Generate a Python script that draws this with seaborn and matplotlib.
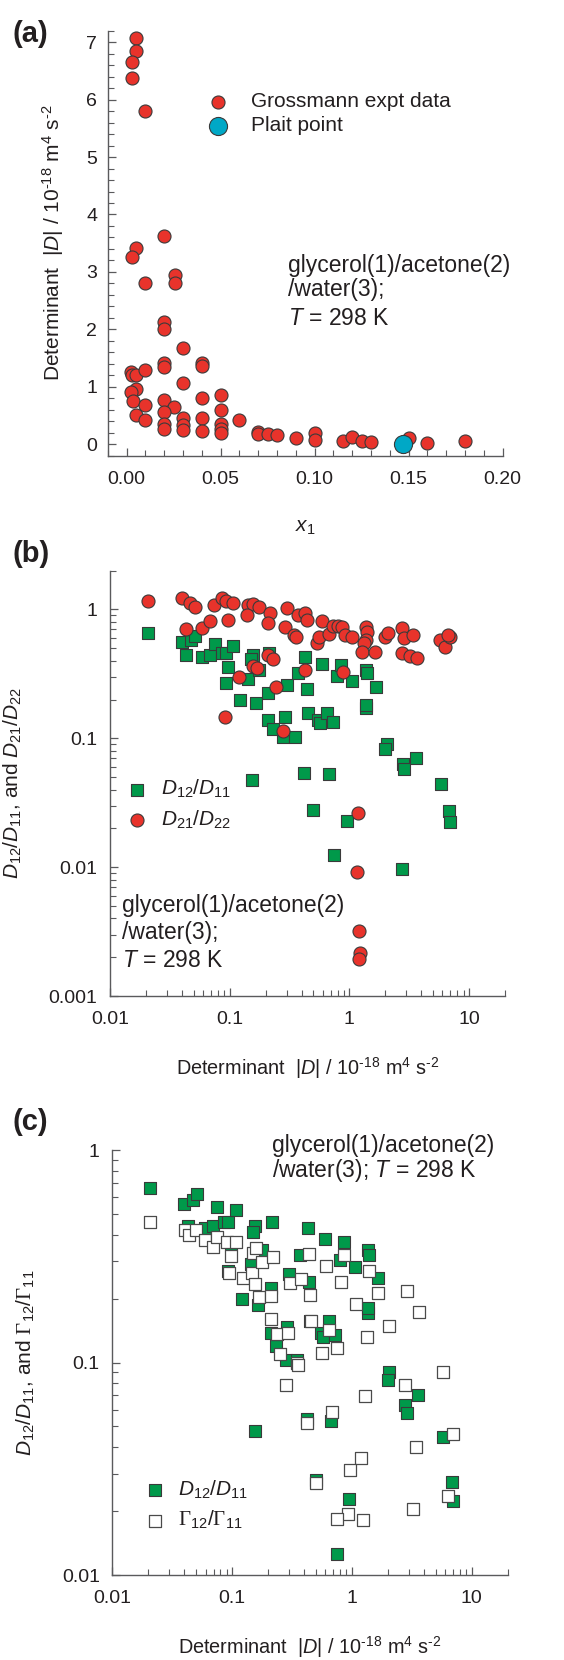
import numpy as np
import pandas as pd
import matplotlib
matplotlib.use("Agg")
import matplotlib.pyplot as plt
import matplotlib.ticker as mticker
import seaborn as sns

# ---------------- data ----------------
# (a) determinant |D| (10^-18 m^4 s^-2) versus glycerol mole fraction x1
a_x1 = [0.0048, 0.005, 0.003, 0.003, 0.010, 0.020, 0.005, 0.003, 0.0097, 0.026,
        0.026, 0.020, 0.020, 0.030, 0.020, 0.020, 0.040, 0.040, 0.0025, 0.0030,
        0.005, 0.010, 0.030, 0.005, 0.0025, 0.0034, 0.010, 0.040, 0.050, 0.020,
        0.0255, 0.020, 0.050, 0.005, 0.010, 0.030, 0.040, 0.060, 0.020, 0.020,
        0.030, 0.030, 0.040, 0.050, 0.050, 0.050, 0.070, 0.070, 0.075, 0.080,
        0.090, 0.100, 0.100, 0.115, 0.120, 0.125, 0.130, 0.150, 0.160, 0.180]
a_det = [7.08, 6.85, 6.65, 6.37, 5.81, 3.63, 3.42, 3.26, 2.80, 2.95,
         2.80, 2.13, 2.00, 1.67, 1.41, 1.35, 1.41, 1.36, 1.26, 1.20,
         1.20, 1.30, 1.07, 0.97, 0.91, 0.75, 0.68, 0.81, 0.85, 0.77,
         0.65, 0.56, 0.60, 0.50, 0.42, 0.45, 0.45, 0.43, 0.36, 0.27,
         0.33, 0.24, 0.23, 0.36, 0.27, 0.20, 0.21, 0.17, 0.17, 0.16,
         0.11, 0.19, 0.08, 0.05, 0.13, 0.05, 0.04, 0.10, 0.02, 0.05]
plait_x1 = [0.147]
plait_det = [0.0]

# (b), (c) D12/D11 versus |D|
d12_det = [0.0206, 0.040, 0.0475, 0.051, 0.043, 0.059, 0.069, 0.075, 0.086, 0.093,
           0.107, 0.0975, 0.093, 0.122, 0.143, 0.156, 0.150, 0.177, 0.166, 0.214,
           0.21, 0.21, 0.232, 0.29, 0.28, 0.35, 0.30, 0.37, 0.43, 0.44,
           0.45, 0.55, 0.57, 0.646, 0.73, 0.594, 0.794, 0.86, 1.06, 1.37,
           1.40, 1.37, 1.37, 1.66, 2.05, 1.99, 2.79, 2.88, 3.58, 5.79,
           6.81, 6.93, 0.155, 0.42, 0.67, 0.50, 0.95, 0.745, 2.77]
d12_ratio = [0.66, 0.56, 0.58, 0.62, 0.44, 0.43, 0.44, 0.54, 0.46, 0.46,
             0.52, 0.36, 0.27, 0.198, 0.29, 0.44, 0.41, 0.34, 0.187, 0.46,
             0.223, 0.138, 0.119, 0.147, 0.103, 0.103, 0.26, 0.32, 0.43, 0.24,
             0.156, 0.138, 0.132, 0.156, 0.134, 0.38, 0.305, 0.37, 0.28, 0.34,
             0.32, 0.171, 0.181, 0.25, 0.090, 0.083, 0.063, 0.058, 0.070, 0.0445,
             0.0273, 0.0223, 0.0478, 0.054, 0.053, 0.0279, 0.0227, 0.0125, 0.0097]

# (b) D21/D22 versus |D|
d21_det = [0.0206, 0.0402, 0.0466, 0.051, 0.043, 0.059, 0.0686, 0.0745, 0.086, 0.093,
           0.107, 0.096, 0.143, 0.158, 0.176, 0.14, 0.217, 0.208, 0.30, 0.375,
           0.426, 0.446, 0.29, 0.347, 0.36, 0.587, 0.54, 0.56, 0.67, 0.735,
           0.81, 0.863, 0.92, 1.06, 1.37, 1.40, 1.37, 1.33, 1.27, 1.64,
           1.99, 2.12, 2.77, 2.88, 3.43, 2.77, 3.21, 3.66, 5.73, 6.3,
           6.93, 6.7, 0.21, 0.229, 0.156, 0.168, 0.12, 0.244, 0.091, 0.277,
           0.427, 0.89, 1.19, 1.15, 1.21, 1.24, 1.21]
d21_ratio = [1.17, 1.22, 1.12, 1.05, 0.70, 0.72, 0.81, 1.09, 1.22, 1.17,
             1.13, 0.83, 1.09, 1.11, 1.05, 0.91, 0.94, 0.78, 1.02, 0.91,
             0.94, 0.83, 0.73, 0.635, 0.61, 0.817, 0.553, 0.61, 0.65, 0.746,
             0.74, 0.73, 0.635, 0.617, 0.73, 0.67, 0.58, 0.547, 0.47, 0.47,
             0.617, 0.66, 0.72, 0.60, 0.635, 0.457, 0.436, 0.418, 0.58, 0.515,
             0.617, 0.635, 0.44, 0.41, 0.365, 0.35, 0.30, 0.25, 0.147, 0.114,
             0.34, 0.325, 0.0263, 0.0091, 0.00318, 0.00214, 0.00195]

# (c) Gamma12/Gamma11 versus |D|
g12_det = [0.0207, 0.0406, 0.0433, 0.050, 0.0598, 0.069, 0.075, 0.091, 0.107, 0.098,
           0.094, 0.123, 0.147, 0.150, 0.157, 0.178, 0.221, 0.155, 0.167, 0.212,
           0.212, 0.235, 0.292, 0.25, 0.35, 0.304, 0.378, 0.448, 0.44, 0.46,
           0.605, 0.645, 0.568, 0.748, 0.81, 0.863, 1.08, 1.40, 1.66, 1.35,
           2.06, 2.89, 3.67, 0.357, 0.28, 5.82, 2.80, 1.29, 0.68, 0.425,
           3.44, 6.99, 1.19, 0.96, 0.50, 6.34, 3.27, 0.92, 0.75, 1.25]
g12_ratio = [0.46, 0.42, 0.40, 0.42, 0.377, 0.35, 0.39, 0.37, 0.37, 0.317,
             0.265, 0.249, 0.265, 0.329, 0.344, 0.298, 0.315, 0.234, 0.204, 0.206,
             0.160, 0.136, 0.138, 0.110, 0.100, 0.236, 0.247, 0.208, 0.324, 0.157,
             0.283, 0.142, 0.111, 0.117, 0.24, 0.32, 0.188, 0.27, 0.213, 0.132,
             0.148, 0.216, 0.172, 0.0975, 0.0785, 0.0907, 0.0785, 0.0696, 0.0587, 0.052,
             0.040, 0.0461, 0.0357, 0.0313, 0.027, 0.0236, 0.0204, 0.0194, 0.0183, 0.0182]

log_major = [0.001, 0.01, 0.1, 1, 10]
lin_xticks = [0.00, 0.05, 0.10, 0.15, 0.20]
lin_yticks = [0, 1, 2, 3, 4, 5, 6, 7]

# ---------------- style ----------------
sns.set_theme(style="ticks")
TXT = "#231f20"
AX = "#5a5a5c"
plt.rcParams.update({
    "font.family": ["Liberation Sans", "DejaVu Sans"],
    "mathtext.fontset": "custom",
    "mathtext.rm": "Liberation Sans",
    "mathtext.it": "Liberation Sans:italic",
    "mathtext.bf": "Liberation Sans:bold",
    "mathtext.sf": "Liberation Serif",
    "text.color": TXT,
    "axes.labelcolor": TXT,
    "xtick.color": AX,
    "ytick.color": AX,
    "xtick.labelcolor": TXT,
    "ytick.labelcolor": TXT,
    "axes.edgecolor": AX,
    "axes.linewidth": 1.0,
})

RED = "#e8332b"
GREEN = "#00994a"
CYAN = "#00a8c6"
EDGE = "#3a3a3a"

W, H = 564, 1660
fig = plt.figure(figsize=(W / 100, H / 100), dpi=100)


def px_axes(left, top, right, bottom):
    return fig.add_axes([left / W, 1 - bottom / H, (right - left) / W, (bottom - top) / H])


def style_ticks(ax, ylabpad, xlabpad):
    ax.tick_params(which="both", direction="in", top=False, right=False)
    ax.tick_params(which="major", length=6, width=0.9, labelsize=14)
    ax.tick_params(which="minor", length=4, width=0.8)
    ax.tick_params(axis="x", which="major", pad=xlabpad)
    ax.tick_params(axis="y", which="major", pad=ylabpad)
    sns.despine(ax=ax)


def fig_text(x, y, s, **kw):
    fig.text(x / W, 1 - y / H, s, **kw)


def log_axis(axis):
    axis.set_major_locator(mticker.FixedLocator(log_major))
    axis.set_major_formatter(mticker.FuncFormatter(lambda v, p: "%g" % v))
    axis.set_minor_locator(mticker.LogLocator(base=10, subs=np.arange(2, 10), numticks=20))
    axis.set_minor_formatter(mticker.NullFormatter())


det_label = r"Determinant  $|D|$ / 10$^{\text{-}18}$ m$^4$ s$^{\text{-}2}$"

# ---------------- (a) ----------------
axa = px_axes(107.7, 30.7, 502.7, 455.7)
sns.scatterplot(x=a_x1, y=a_det, ax=axa, marker="o", s=88, color=RED,
                edgecolor=EDGE, linewidth=0.8, label="Grossmann expt data", zorder=3)
sns.scatterplot(x=plait_x1, y=plait_det, ax=axa, marker="o", s=170, color=CYAN,
                edgecolor=EDGE, linewidth=0.8, label="Plait point", zorder=4)
axa.set_xlim(-0.01, 0.20)
axa.set_ylim(-0.2, 7.2)
axa.xaxis.set_major_locator(mticker.FixedLocator(lin_xticks))
axa.xaxis.set_major_formatter(mticker.FuncFormatter(lambda v, p: "%.2f" % v))
axa.xaxis.set_minor_locator(mticker.MultipleLocator(0.01))
axa.yaxis.set_major_locator(mticker.FixedLocator(lin_yticks))
axa.yaxis.set_minor_locator(mticker.MultipleLocator(0.2))
style_ticks(axa, 7.5, 11)
axa.set_xlabel(r"$x_1$", fontsize=15, va="center")
axa.xaxis.set_label_coords(0.5, -0.170)
axa.set_ylabel(det_label, fontsize=15, va="center")
axa.yaxis.set_label_coords(-0.1385, 0.5)
axa.legend(loc="center left", bbox_to_anchor=(0.253, 0.805), frameon=False,
           fontsize=15, borderpad=0, borderaxespad=0, handlelength=1.0,
           handletextpad=1.1, labelspacing=0.25)
fig_text(288.3, 271.7, "glycerol(1)/acetone(2)", fontsize=16.5, va="baseline")
fig_text(288.3, 296.0, "/water(3);", fontsize=16.5, va="baseline")
fig_text(288.3, 325.0, r"$T$ = 298 K", fontsize=16.5, va="baseline")
fig_text(12, 34, "(a)", fontsize=21, fontweight="bold", va="center")

# ---------------- (b) ----------------
axb = px_axes(110, 570.7, 505, 996)
axb.set_xscale("log")
axb.set_yscale("log")
sns.scatterplot(x=d12_det, y=d12_ratio, ax=axb, marker="s", s=72, color=GREEN,
                edgecolor=EDGE, linewidth=0.8, label=r"$D_{12}/D_{11}$", zorder=3)
sns.scatterplot(x=d21_det, y=d21_ratio, ax=axb, marker="o", s=88, color=RED,
                edgecolor=EDGE, linewidth=0.8, label=r"$D_{21}/D_{22}$", zorder=4)
axb.set_xlim(0.01, 20)
axb.set_ylim(0.001, 2)
log_axis(axb.xaxis)
log_axis(axb.yaxis)
style_ticks(axb, 9, 11)
axb.set_xlabel(det_label, fontsize=14.3, va="center")
axb.xaxis.set_label_coords(0.5, -0.169)
axb.set_ylabel(r"$D_{12}/D_{11}$, and $D_{21}/D_{22}$", fontsize=15, va="center")
axb.yaxis.set_label_coords(-0.2456, 0.5)
axb.legend(loc="center left", bbox_to_anchor=(0.042, 0.45), frameon=False,
           fontsize=15, borderpad=0, borderaxespad=0, handlelength=1.0,
           handletextpad=0.65, labelspacing=0.4)
fig_text(121.7, 911.7, "glycerol(1)/acetone(2)", fontsize=16.5, va="baseline")
fig_text(121.7, 939.3, "/water(3);", fontsize=16.5, va="baseline")
fig_text(121.7, 966.7, r"$T$ = 298 K", fontsize=16.5, va="baseline")
fig_text(12, 554, "(b)", fontsize=21, fontweight="bold", va="center")

# ---------------- (c) ----------------
axc = px_axes(112.3, 1150, 507.7, 1575)
axc.set_xscale("log")
axc.set_yscale("log")
c_lo, c_hi = 0.01, 1
# only points inside the plotted range are drawn in this panel
in_c = [(d, r) for d, r in zip(d12_det, d12_ratio) if c_lo <= r <= c_hi]
sns.scatterplot(x=[d for d, r in in_c], y=[r for d, r in in_c], ax=axc, marker="s",
                s=72, color=GREEN, edgecolor=EDGE, linewidth=0.8,
                label=r"$D_{12}/D_{11}$", zorder=3)
sns.scatterplot(x=g12_det, y=g12_ratio, ax=axc, marker="s", s=72, color="white",
                edgecolor="#4a4a4a", linewidth=0.9,
                label=r"$\mathsf{\Gamma}_{12}/\mathsf{\Gamma}_{11}$", zorder=4)
axc.set_xlim(0.01, 20)
axc.set_ylim(c_lo, c_hi)
log_axis(axc.xaxis)
log_axis(axc.yaxis)
style_ticks(axc, 9, 11)
axc.set_xlabel(det_label, fontsize=14.3, va="center")
axc.xaxis.set_label_coords(0.5, -0.169)
axc.set_ylabel(r"$D_{12}/D_{11}$, and $\mathsf{\Gamma}_{12}/\mathsf{\Gamma}_{11}$",
               fontsize=15, va="center")
axc.yaxis.set_label_coords(-0.2195, 0.5)
axc.legend(loc="center left", bbox_to_anchor=(0.082, 0.165), frameon=False,
           fontsize=15, borderpad=0, borderaxespad=0, handlelength=1.0,
           handletextpad=0.6, labelspacing=0.4)
fig_text(271.7, 1151.7, "glycerol(1)/acetone(2)", fontsize=16.5, va="baseline")
fig_text(271.7, 1176.7, r"/water(3); $T$ = 298 K", fontsize=16.5, va="baseline")
fig_text(12, 1122.5, "(c)", fontsize=21, fontweight="bold", va="center")

fig.savefig("out.png", dpi=100)
